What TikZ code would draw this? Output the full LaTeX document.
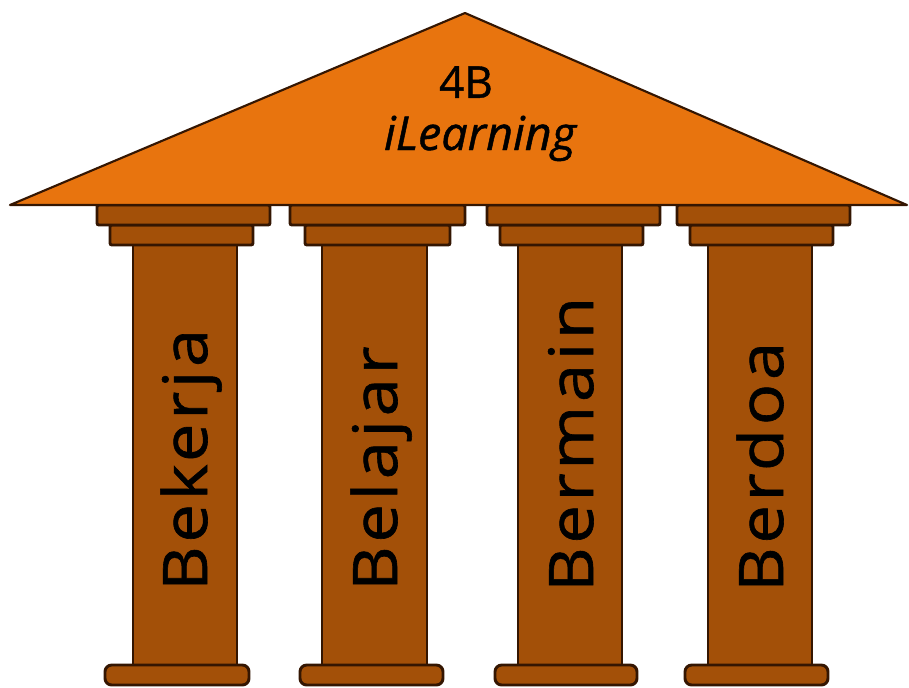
\documentclass[tikz,border=0pt]{standalone}
\usepackage{fontspec}
\newfontfamily\handfont[LetterSpace=6,FakeStretch=1.12,RawFeature={embolden=1.0}]{Open Sans}
\newfontfamily\roofhand[RawFeature={embolden=1.0}]{Open Sans}

\definecolor{roofor}{RGB}{232,116,14}
\definecolor{pillarbr}{RGB}{163,80,8}
\definecolor{edgebr}{RGB}{52,22,2}

\tikzset{
  roof/.style={draw=edgebr, fill=roofor, line width=1.6pt, line join=round},
  slab/.style={draw=edgebr, fill=pillarbr, line width=2.2pt, rounded corners=1.5pt},
  shaft/.style={draw=edgebr, fill=pillarbr, line width=2pt},
  plinth/.style={draw=edgebr, fill=pillarbr, line width=2.2pt, rounded corners=5pt},
  rooftext/.style={inner sep=0pt, text=black},
  pillartext/.style={inner sep=0pt, text=black, rotate=90, anchor=base west,
    font=\handfont\fontsize{46}{50}\selectfont},
}

\begin{document}
\begin{tikzpicture}[x=0.75pt,y=0.75pt,yscale=-1,xscale=1]
\useasboundingbox (0,0) rectangle (909,687);

%Shape: Rectangle [pillar 1] 
\draw [shaft] (133,245) rectangle (237,665) ;
\draw [plinth] (105,665) rectangle (249,685) ;
\draw [slab] (110,225) rectangle (253,245) ;
\draw [slab] (97,205) rectangle (270,225) ;
%Shape: Rectangle [pillar 2] 
\draw [shaft] (322,245) rectangle (427,665) ;
\draw [plinth] (300,665) rectangle (443,685) ;
\draw [slab] (305,225) rectangle (450,245) ;
\draw [slab] (290,205) rectangle (465,225) ;
%Shape: Rectangle [pillar 3] 
\draw [shaft] (518,245) rectangle (622,665) ;
\draw [plinth] (495,665) rectangle (637,685) ;
\draw [slab] (500,225) rectangle (643,245) ;
\draw [slab] (487,205) rectangle (660,225) ;
%Shape: Rectangle [pillar 4] 
\draw [shaft] (708,245) rectangle (812,665) ;
\draw [plinth] (685,665) rectangle (828,685) ;
\draw [slab] (690,225) rectangle (833,245) ;
\draw [slab] (677,205) rectangle (850,225) ;

%Shape: Triangle [roof] 
\draw [roof] (10,205) -- (465,13) -- (907,205) -- cycle ;

% Text Node
\node [rooftext, font=\roofhand\fontsize{33}{36}\selectfont] (grade) at (466,82) {4B};
% Text Node
\node [rooftext, anchor=base, font=\roofhand\itshape\fontsize{35}{40}\selectfont] (motto) at (480,150) {iLearning};

% Text Node
\node [pillartext] (work) at (207,591) {Bekerja};
% Text Node
\node [pillartext] (study) at (397,591) {Belajar};
% Text Node
\node [pillartext] (play) at (593,592) {Bermain};
% Text Node
\node [pillartext] (pray) at (783,592) {Berdoa};

\end{tikzpicture}
\end{document}
